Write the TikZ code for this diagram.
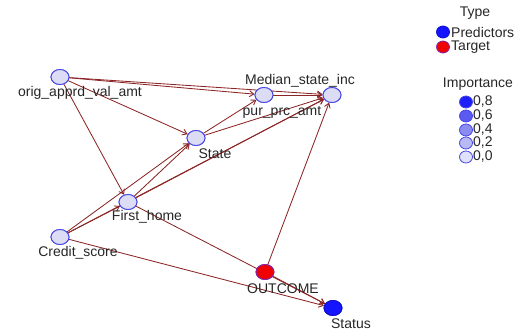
\documentclass[tikz,border=0pt]{standalone}
\usepackage{fontspec}
\setmainfont{Liberation Sans}
\usetikzlibrary{arrows.meta,shapes.geometric}
\definecolor{edgec}{RGB}{140,38,38}
\definecolor{nodefill}{RGB}{220,220,245}
\definecolor{nodedraw}{RGB}{70,70,230}
\definecolor{tgtfill}{RGB}{240,0,0}
\definecolor{tgtdraw}{RGB}{130,40,170}
\definecolor{predfill}{RGB}{20,20,255}
\definecolor{impA}{RGB}{30,30,250}
\definecolor{impB}{RGB}{90,90,240}
\definecolor{impC}{RGB}{140,140,240}
\definecolor{impD}{RGB}{185,185,245}
\definecolor{impE}{RGB}{225,225,250}
\begin{document}
\begin{tikzpicture}[x=1pt,y=-1pt,
  vnode/.style={ellipse,draw=nodedraw,fill=nodefill,line width=0.9pt,minimum width=18pt,minimum height=15pt,inner sep=0pt},
  tnode/.style={vnode,draw=tgtdraw,fill=tgtfill},
  snode/.style={vnode,draw=predfill!80!black,fill=predfill},
  lbl/.style={font=\fontsize{14}{16}\selectfont,text=black!85,inner sep=0pt},
  lgc/.style={ellipse,line width=0.8pt,minimum width=13pt,minimum height=12pt,inner sep=0pt},
  edge/.style={draw=edgec,line width=0.85pt,-{Straight Barb[length=4.5pt,width=6pt]}}
]
\useasboundingbox (0,0) rectangle (522,331);
% nodes
\node[vnode] (orig) at (60,77) {};
\node[vnode] (med) at (332,95) {};
\node[vnode] (pur) at (264,95) {};
\node[vnode] (state) at (196,138) {};
\node[vnode] (first) at (128,202) {};
\node[vnode] (credit) at (60,237) {};
\node[tnode] (out) at (265,272) {};
\node[snode] (status) at (333,308) {};
% edges
\draw[edge] (orig) -- (pur);
\draw[edge] (orig) -- (med);
\draw[edge] (orig) -- (state);
\draw[edge] (orig) -- (first);
\draw[edge] (state) -- (pur);
\draw[edge] (state) -- (med);
\draw[edge] (pur) -- (med);
\draw[edge] (first) -- (state);
\draw[edge] (first) -- (med);
\draw[edge] (credit) -- (state);
\draw[edge] (credit) -- (first);
\draw[edge] (credit) -- (med);
\draw[edge] (credit) -- (status);
\draw[edge] (first) -- (status);
\draw[edge] (out) -- (med);
\draw[edge] (out) -- (status);
% redraw nodes on top
\node[vnode] at (orig) {};
\node[vnode] at (med) {};
\node[vnode] at (pur) {};
\node[vnode] at (state) {};
\node[vnode] at (first) {};
\node[vnode] at (credit) {};
\node[tnode] at (out) {};
\node[snode] at (status) {};
% labels
\node[lbl] (lorig) at (80,93) {orig\_apprd\_val\_amt};
\node[lbl] (lmed) at (300,81) {Median\_state\_inc};
\node[lbl] (lpur) at (282,112) {pur\_prc\_amt};
\node[lbl] (lstate) at (215,154) {State};
\node[lbl] (lfirst) at (147,217) {First\_home};
\node[lbl] (lcredit) at (78,253) {Credit\_score};
\node[lbl] (lout) at (283,289) {OUTCOME};
\node[lbl] (lstatus) at (351,324) {Status};
% legend
\node[lbl] (ltype) at (475,13) {Type};
\node[lgc,draw=predfill!80!black,fill=predfill] (cpred) at (443,32) {};
\node[lbl,anchor=west] (tpred) at (451,32) {Predictors};
\node[lgc,draw=tgtdraw,fill=tgtfill] (ctgt) at (443,47) {};
\node[lbl,anchor=west] (ttgt) at (451,47) {Target};
\node[lbl] (limp) at (478,84) {Importance};
\node[lgc,draw=nodedraw,fill=impA] (c8) at (466,102) {};
\node[lbl,anchor=west] (t8) at (473,102) {0,8};
\node[lgc,draw=nodedraw,fill=impB] (c6) at (466,116) {};
\node[lbl,anchor=west] (t6) at (473,116) {0,6};
\node[lgc,draw=nodedraw,fill=impC] (c4) at (466,130) {};
\node[lbl,anchor=west] (t4) at (473,130) {0,4};
\node[lgc,draw=nodedraw,fill=impD] (c2) at (466,143) {};
\node[lbl,anchor=west] (t2) at (473,143) {0,2};
\node[lgc,draw=nodedraw,fill=impE] (c0) at (466,157) {};
\node[lbl,anchor=west] (t0) at (473,157) {0,0};
\end{tikzpicture}
\end{document}
